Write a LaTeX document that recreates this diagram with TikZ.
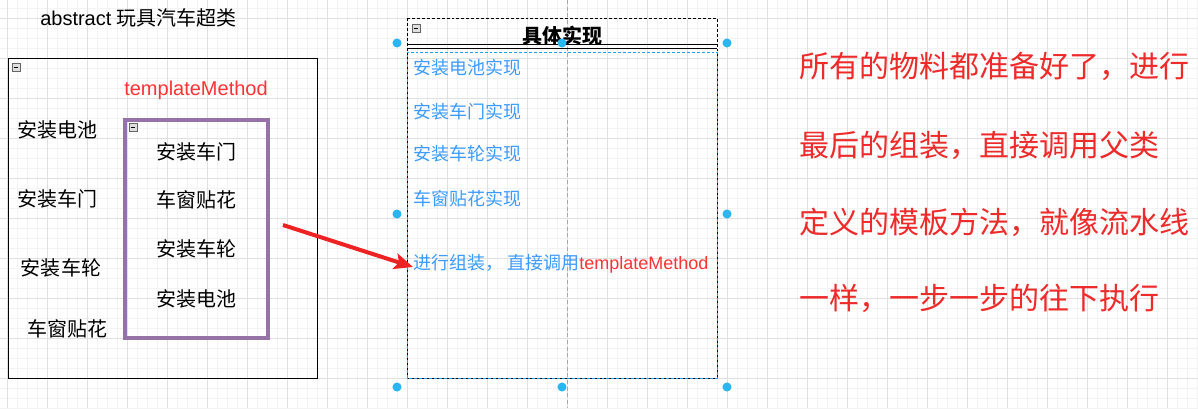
\documentclass[tikz,border=0pt]{standalone}
\usepackage{fontspec}
\setmainfont{Liberation Sans}
\newfontfamily\cjk{Noto Sans CJK SC}
\usetikzlibrary{arrows.meta}
\definecolor{gridminor}{HTML}{F3F3F3}
\definecolor{gridmajor}{HTML}{E0E0E0}
\definecolor{purp}{HTML}{9673A6}
\definecolor{bluetxt}{HTML}{3D9BFF}
\definecolor{redtxt}{HTML}{FF3333}
\definecolor{bigred}{HTML}{EE2A2A}
\definecolor{handlec}{HTML}{29B6F2}
\definecolor{arrowred}{HTML}{EE2222}
\definecolor{guide}{HTML}{A8A8A8}
\definecolor{selblue}{HTML}{1E9FE8}
\tikzset{
  lbl/.style={font=\cjk\fontsize{15}{18}\selectfont, inner sep=0pt, text height=10.8pt, text depth=0pt},
  blbl/.style={font=\cjk\fontsize{13.5}{16}\selectfont, inner sep=0pt, text height=9.7pt, text depth=0pt, text=bluetxt, anchor=west},
  rlbl/.style={font=\cjk\fontsize{22.5}{26}\selectfont, inner sep=0pt, text height=16.2pt, text depth=0pt, text=bigred, anchor=west},
  handledot/.style={circle, fill=handlec, draw=none, minimum size=6.8pt, inner sep=0pt},
  collapser/.style={draw=gray!80!black, fill=gray!25, line width=0.5pt, minimum size=6pt, inner sep=0pt,
     path picture={\draw[black, line width=0.6pt] ([xshift=1.3pt]path picture bounding box.west) -- ([xshift=-1.3pt]path picture bounding box.east);}},
}
\begin{document}
\begin{tikzpicture}[x=0.75pt,y=-0.75pt]
\useasboundingbox (0,0) rectangle (1198,408);
\fill[white] (0,0) rectangle (1198,408);
% grid
\foreach \x in {7,17,...,1197} \draw[gridminor, line width=0.75pt] (\x,0) -- (\x,408);
\foreach \y in {8,18,...,408} \draw[gridminor, line width=0.75pt] (0,\y) -- (1198,\y);
\foreach \x in {7,47,...,1197} \draw[gridmajor, line width=0.75pt] (\x,0) -- (\x,408);
\foreach \y in {18,58,...,398} \draw[gridmajor, line width=0.75pt] (0,\y) -- (1198,\y);

% guide line
\draw[guide, dashed, dash pattern=on 3pt off 2pt, line width=0.6pt] (567,0) -- (567,408);

% title
\node[font=\fontsize{15}{18}\selectfont, inner sep=0pt, anchor=west, text height=10.8pt, text depth=0pt] (title) at (40,18) {abstract {\cjk 玩具汽车超类}};

% outer abstract frame
\draw[black, line width=0.75pt] (8,58) rectangle (317,378);
\node[collapser] (col1) at (16,67) {};
\node[font=\fontsize{15}{18}\selectfont, text=redtxt, inner sep=0pt, text height=10.8pt, text depth=3pt] (tm) at (196,90) {templateMethod};

\node[lbl] (l1) at (57,130) {安装电池};
\node[lbl] (l2) at (57,199) {安装车门};
\node[lbl] (l3) at (61,268) {安装车轮};
\node[lbl] (l4) at (67,329) {车窗贴花};

% purple template method box
\draw[purp, line width=3pt] (125,119.5) rectangle (267.5,338);
\node[collapser] (col2) at (133,127) {};
\node[lbl] (i1) at (196,152) {安装车门};
\node[lbl] (i2) at (196,200) {车窗贴花};
\node[lbl] (i3) at (196,249) {安装车轮};
\node[lbl] (i4) at (196,299) {安装电池};

% concrete implementation box
\draw[black, dashed, dash pattern=on 2.2pt off 1.5pt, line width=0.7pt] (407,18) rectangle (717,378);
\draw[selblue, dash pattern=on 2.2pt off 1.5pt, dash phase=1.8pt, line width=0.7pt] (407,52) rectangle (717,378);
\draw[black, line width=0.75pt] (407,44) -- (717,44);
\draw[black, line width=0.75pt] (407,48) -- (717,48);
\node[collapser] (col3) at (416,28) {};
\node[font=\cjk\bfseries\fontsize{15}{18}\selectfont, inner sep=0pt, text height=10.8pt, text depth=0pt] (head) at (562,36) {具体实现};

\node[blbl] (b1) at (413,68) {安装电池实现};
\node[blbl] (b2) at (413,112) {安装车门实现};
\node[blbl] (b3) at (413,154) {安装车轮实现};
\node[blbl] (b4) at (413,199) {车窗贴花实现};
\node[blbl] (b5) at (413,263) {进行组装， 直接调用{\rmfamily\textcolor{redtxt}{templateMethod}}};

% selection handles
\foreach \hx/\hy [count=\i] in {397/43,562/43,727/43,397/214,727/214,397/387,562/387,727/387}
  \node[handledot] (h\i) at (\hx,\hy) {};

% arrow
\coordinate (astart) at (283,225);
\coordinate (aend) at (413,267);
\draw[arrowred, line width=3pt, -{Stealth[length=14pt, width=12pt, inset=3pt]}] (astart) -- (aend);

% explanation text
\node[rlbl] (r1) at (799,67) {所有的物料都准备好了，进行};
\node[rlbl] (r2) at (799,146) {最后的组装，直接调用父类};
\node[rlbl] (r3) at (799,223) {定义的模板方法，就像流水线};
\node[rlbl] (r4) at (799,299) {一样，一步一步的往下执行};
\end{tikzpicture}
\end{document}
